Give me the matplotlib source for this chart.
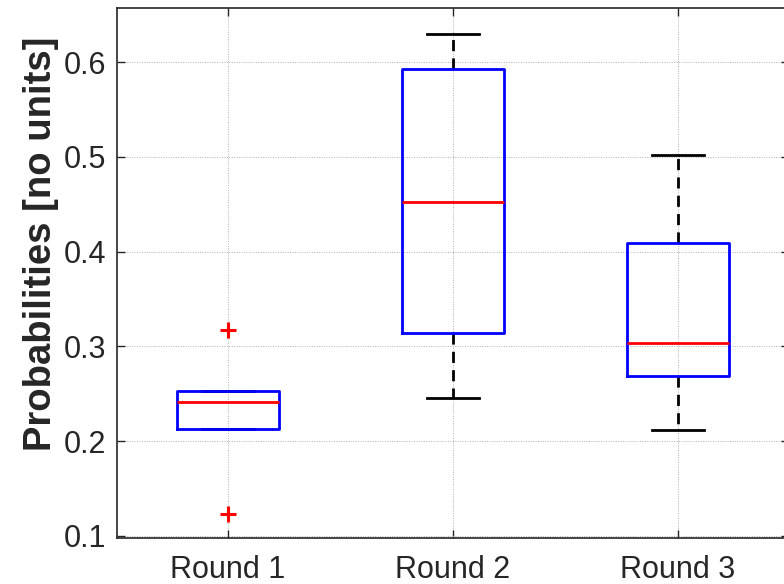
import matplotlib
matplotlib.use("Agg")
import matplotlib.pyplot as plt

plt.rcParams['font.family'] = ['Liberation Sans', 'DejaVu Sans']

categories = ["Round 1", "Round 2", "Round 3"]
q1 = [0.2127, 0.3142, 0.2684]
med = [0.2408, 0.4518, 0.3032]
q3 = [0.2530, 0.5922, 0.4095]
whislo = [0.2127, 0.2458, 0.2116]
whishi = [0.2530, 0.6300, 0.5022]
fliers = [[0.3168, 0.1228], [], []]
yticks = [0.1, 0.2, 0.3, 0.4, 0.5, 0.6]

stats = []
for i, lab in enumerate(categories):
    stats.append(dict(label=lab, q1=q1[i], med=med[i], q3=q3[i],
                      whislo=whislo[i], whishi=whishi[i], fliers=fliers[i]))

fig = plt.figure(figsize=(7.84, 5.84), dpi=100)
ax = fig.add_axes([117/784, 46/584, (789-117)/784, (538-8)/584])

ax.bxp(stats, positions=[1, 2, 3], widths=0.453, showfliers=True,
       boxprops=dict(color='#0000ff', linewidth=2.0, zorder=4),
       medianprops=dict(color='#ff0000', linewidth=2.0, zorder=5),
       whiskerprops=dict(color='black', linewidth=2.0, linestyle=(0, (4, 2.6)), zorder=2),
       capprops=dict(color='black', linewidth=2.0, zorder=2),
       capwidths=0.235,
       flierprops=dict(marker='+', markeredgecolor='#ff0000', markersize=11,
                       markeredgewidth=2.2, linestyle='none'))

ax.set_xlim(0.507, 3.493)
ax.set_ylim(0.0978, 0.657)
ax.set_yticks(yticks)
ax.set_yticklabels([f"{v:.1f}" for v in yticks])
ax.set_xticks([1, 2, 3])
ax.set_xticklabels(categories)

ax.grid(True, linestyle=(0, (1, 1.5)), color='#b0b0b0', linewidth=0.7)
ax.set_axisbelow(True)
ax.tick_params(direction='in', length=6, width=1.0, colors='#262626',
               labelsize=22, top=True, right=True)
ax.tick_params(axis='y', pad=8)
ax.tick_params(axis='x', pad=12)
for lbl in ax.get_xticklabels() + ax.get_yticklabels():
    lbl.set_color('#262626')
for s in ax.spines.values():
    s.set_color('#262626')
    s.set_linewidth(1.2)

ax.set_ylabel("Probabilities [no units]", fontsize=27.5, fontweight='bold',
              color='#262626')
ax.yaxis.set_label_coords(-(117-59)/672, (538-244)/530)

fig.savefig("out.png", dpi=100)
